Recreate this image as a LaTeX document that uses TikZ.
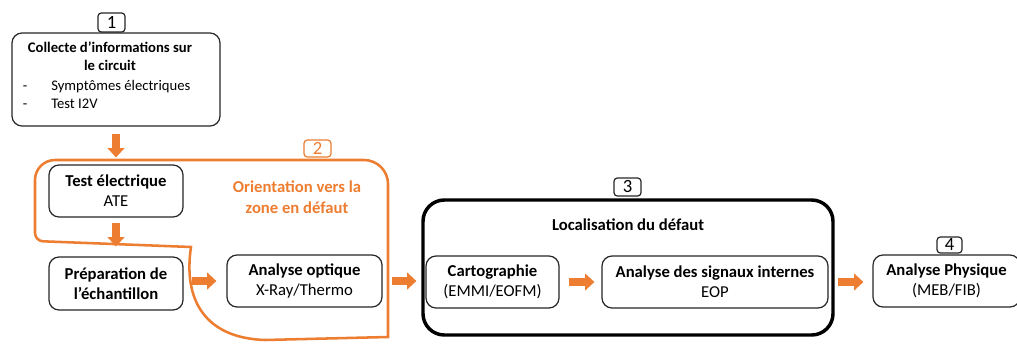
\documentclass[tikz,border=0pt]{standalone}
\usepackage{fontspec}
\setmainfont{Carlito}
\usetikzlibrary{arrows.meta}
\definecolor{orng}{RGB}{237,125,49}
\begin{document}
\begin{tikzpicture}[x=0.75pt,y=-0.75pt,
  box/.style={draw=black!85, fill=white, line width=0.9pt, rounded corners=7.5pt, align=center, inner sep=0pt, font=\fontsize{12.5}{15}\selectfont},
  bigbox/.style={draw=black, line width=2.6pt, rounded corners=16pt, inner sep=0pt},
  numbox/.style={draw=black!85, line width=0.9pt, rounded corners=2.5pt, inner sep=0pt, font=\fontsize{14}{14}\selectfont},
  barrow/.style={orng, line width=6pt, -{Triangle[length=7pt,width=12.5pt]}},
  orangeline/.style={orng, line width=1.9pt},
  smalltext/.style={inner sep=0pt, font=\fontsize{11}{13.5}\selectfont},
]
\clip (0,0) rectangle (1017,343);
\useasboundingbox (0,0) rectangle (1017,343);

% orange region (step 2)
\draw[orangeline] (191,247) [rounded corners=6pt] -- (35,241) [rounded corners=15pt] -- (35,160) [rounded corners=18pt] -- (388,160) [sharp corners] -- (388,337) -- (265,340) .. controls (205,338) and (183,300) .. (191,247) -- cycle;

% step 3 frame
\node[bigbox, minimum width=307.5pt, minimum height=101.25pt] (frame3) at (628,267.5) {};

% boxes
\node[box, minimum width=156pt, minimum height=69.75pt] (c1) at (116,79.5) {};
\node[box, minimum width=100.5pt, minimum height=39pt] (test) at (116,191) {\textbf{Test électrique}\\ATE};
\node[box, minimum width=100.5pt, minimum height=39.75pt] (prep) at (116,283.5) {\textbf{Préparation de}\\\textbf{l’échantillon}};
\node[box, minimum width=116.25pt, minimum height=39pt] (opt) at (304.5,281) {\textbf{Analyse optique}\\X-Ray/Thermo};
\node[box, minimum width=99.75pt, minimum height=39pt] (carto) at (492.5,282) {\textbf{Cartographie}\\(EMMI/EOFM)};
\node[box, minimum width=169.5pt, minimum height=39pt] (sig) at (715,282) {\textbf{Analyse des signaux internes}\\EOP};
\node[box, minimum width=110.25pt, minimum height=39pt] (phys) at (946.5,281) {\textbf{Analyse Physique}\\(MEB/FIB)};

% texts of box 1
\node[align=center, inner sep=0pt, font=\fontsize{11}{13.5}\selectfont\bfseries] (c1title) at (110,56) {Collecte d’informations sur\\le circuit};
\node[smalltext, anchor=base] (d1) at (25,90) {-};
\node[smalltext, anchor=base west] (b1) at (51,90) {Symptômes électriques};
\node[smalltext, anchor=base] (d2) at (25,108) {-};
\node[smalltext, anchor=base west] (b2) at (51,108) {Test I2V};

% titles
\node[align=center, inner sep=0pt, text=orng, font=\fontsize{12.5}{15.75}\selectfont\bfseries] (orient) at (297,197.5) {Orientation vers la\\zone en défaut};
\node[inner sep=0pt, font=\fontsize{12.5}{15}\selectfont\bfseries] (loc) at (628,225) {Localisation du défaut};

% number labels
\node[numbox, minimum width=20.25pt, minimum height=14.25pt] (n1) at (111.5,22.5) {1};
\node[numbox, draw=orng, text=orng, minimum width=20.25pt, minimum height=12.75pt] (n2) at (317.5,148.5) {2};
\node[numbox, minimum width=20.25pt, minimum height=13.5pt] (n3) at (627.5,187) {3};
\node[numbox, minimum width=18.75pt, minimum height=12pt] (n4) at (949.5,245) {4};

% block arrows
\draw[barrow, shorten <=5.25pt, shorten >=5.25pt] (c1.south) -- (test.north);
\draw[barrow, shorten <=3.75pt, shorten >=7.5pt] (test.south) -- (prep.north);
\draw[barrow, shorten <=6pt, shorten >=7.5pt] (opt.west -| prep.east) -- (opt.west);
\draw[barrow, shorten <=6.75pt, shorten >=6.75pt] (opt.east) -- (opt.east -| carto.west);
\draw[barrow, shorten <=6.75pt, shorten >=5.25pt] (carto.east) -- (sig.west);
\draw[barrow, shorten <=6.75pt, shorten >=6.75pt] (sig.east) -- (sig.east -| phys.west);
\end{tikzpicture}
\end{document}
